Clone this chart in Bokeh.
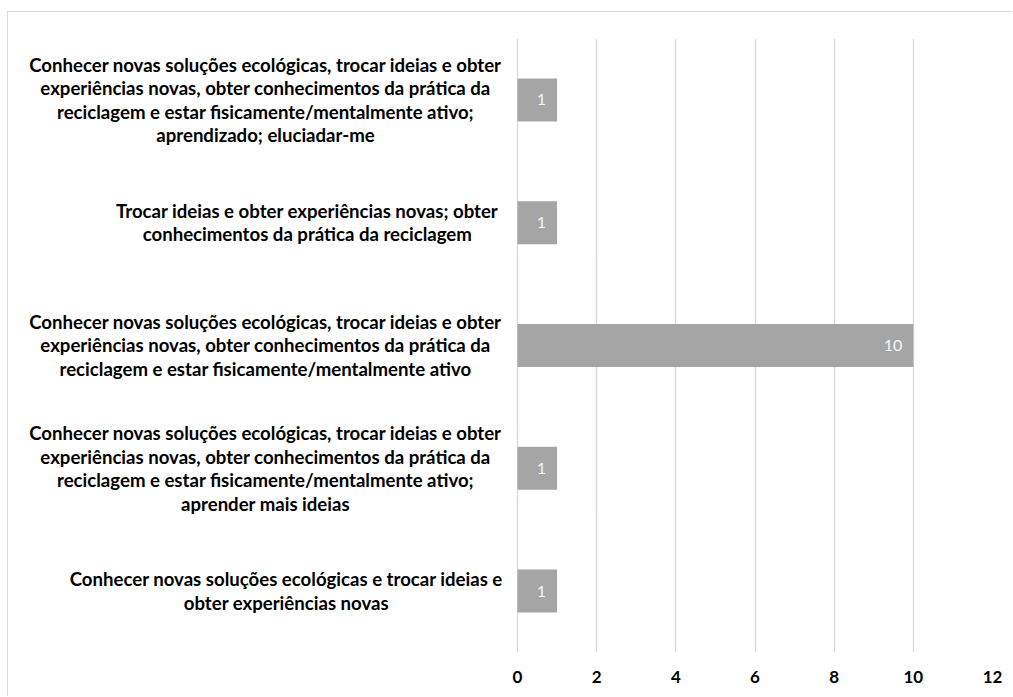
from bokeh.plotting import figure
from bokeh.models import Range1d, FixedTicker, ColumnDataSource, LabelSet
from bokeh.embed import file_html
from bokeh.resources import INLINE
from bokeh.core.properties import value

categories = [
    "Conhecer novas soluções ecológicas, trocar ideias e obter\nexperiências novas, obter conhecimentos da prática da\nreciclagem e estar fisicamente/mentalmente ativo;\naprendizado; eluciadar-me",
    "Trocar ideias e obter experiências novas; obter\nconhecimentos da prática da reciclagem",
    "Conhecer novas soluções ecológicas, trocar ideias e obter\nexperiências novas, obter conhecimentos da prática da\nreciclagem e estar fisicamente/mentalmente ativo",
    "Conhecer novas soluções ecológicas, trocar ideias e obter\nexperiências novas, obter conhecimentos da prática da\nreciclagem e estar fisicamente/mentalmente ativo;\naprender mais ideias",
    "Conhecer novas soluções ecológicas e trocar ideias e\nobter experiências novas",
]
values = [1, 1, 10, 1, 1]
x_ticks = [0, 2, 4, 6, 8, 10, 12]

# layout (pixels)
W, H = 1005, 685
LABEL_AREA = 509          # space left of value 0
MB_RIGHT, MB_TOP, MB_BOTTOM = 21, 26, 45
x_max = x_ticks[-1]
px_per_unit = (W - MB_RIGHT - LABEL_AREA) / x_max
x_min = -LABEL_AREA / px_per_unit

n = len(categories)
ypos = [n - 0.5 - i for i in range(n)]
src = ColumnDataSource(dict(y=ypos, v=values, lab=[str(v) for v in values]))

p = figure(width=W, height=H, output_backend="svg", toolbar_location=None,
           x_range=Range1d(x_min, x_max), y_range=Range1d(0, n),
           min_border_left=0, min_border_right=MB_RIGHT, min_border_top=MB_TOP,
           min_border_bottom=MB_BOTTOM,
           styles={"border-top": "1px solid #D9D9D9", "border-left": "1px solid #D9D9D9",
                   "margin-top": "11px", "margin-left": "7px"})
p.outline_line_color = None
p.background_fill_color = "white"
p.border_fill_color = "white"

p.hbar(y="y", right="v", left=0, height=0.35, source=src, fill_color="#A5A5A5", line_color=None)

p.add_layout(LabelSet(x="v", y="y", text="lab", source=src, x_offset=-11, text_align="right",
                      text_baseline="middle", text_color="#F5F5F5", text_font=value("Lato"),
                      text_font_size="16px"))

# category labels: block's widest line ends ~17px left of zero, lines centred
right_edge_px = -14
char_w = 8.35
label_x = []
for cat in categories:
    longest = max(len(s) for s in cat.split("\n"))
    label_x.append((right_edge_px - longest * char_w / 2) / px_per_unit)
lsrc = ColumnDataSource(dict(x=label_x, y=ypos, t=categories))
p.text(x="x", y="y", text="t", source=lsrc, text_align="center", text_baseline="middle",
       text_font=value("Lato"), text_font_style="bold", text_font_size="18.6px",
       text_color="#000000", text_line_height=1.07)

p.xgrid.ticker = FixedTicker(ticks=x_ticks)
p.xgrid.bounds = (0, x_max)
p.xgrid.grid_line_color = "#D9D9D9"
p.xgrid.grid_line_width = 1.3
p.ygrid.visible = False

p.xaxis.ticker = FixedTicker(ticks=x_ticks)
p.xaxis.bounds = (0, x_max)
p.xaxis.axis_line_color = None
p.xaxis.major_tick_line_color = None
p.xaxis.minor_tick_line_color = None
p.xaxis.major_tick_out = 0
p.xaxis.major_label_standoff = 18
p.xaxis.major_label_text_font = "Lato"
p.xaxis.major_label_text_font_style = "bold"
p.xaxis.major_label_text_font_size = "17px"
p.xaxis.major_label_text_color = "#000000"
p.yaxis.visible = False

open("out.html", "w").write(file_html(p, INLINE))
